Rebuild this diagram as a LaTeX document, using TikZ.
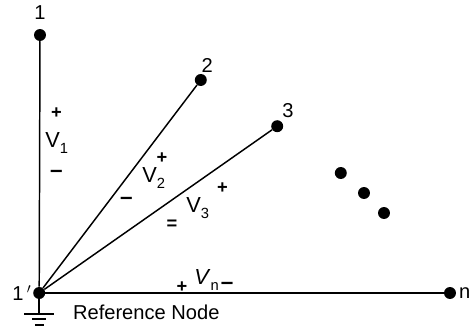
\documentclass[tikz,border=0pt]{standalone}
\usepackage{fontspec}
\setmainfont{Liberation Sans}
\newcommand{\volt}[2]{#1\raisebox{-4pt}{\fontsize{10.5}{12}\selectfont #2}}
\begin{document}
\begin{tikzpicture}[scale=1.0, every node/.style={font=\fontsize{14.3}{16}\selectfont},
    vertex/.style={circle, fill=black, inner sep=0pt, minimum size=8.5pt},
    wire/.style={line width=1.05pt},
    sign/.style={inner sep=0pt, font=\fontsize{13}{15}\selectfont\bfseries},
    minus/.style={inner sep=0pt, font=\fontsize{16}{18}\selectfont\bfseries},
    voltage/.style={anchor=base west, inner sep=0pt, font=\fontsize{15.5}{18}\selectfont}]
    \useasboundingbox (0,0) rectangle (11.75,8.175);

    % vertices
    \node[vertex] (v1) at (1.0,7.3) {};
    \node[vertex] (v2) at (5.02,6.175) {};
    \node[vertex] (v3) at (6.93,5.02) {};
    \node[vertex] (ref) at (0.98,0.85) {};
    \node[vertex] (vn) at (11.25,0.85) {};
    \node[vertex] (d1) at (8.52,3.85) {};
    \node[vertex] (d2) at (9.1,3.35) {};
    \node[vertex] (d3) at (9.6,2.85) {};

    % vertex labels
    \node[inner sep=0pt] (l1) at (1.0,7.85) {1};
    \node[inner sep=0pt] (l2) at (5.18,6.55) {2};
    \node[inner sep=0pt] (l3) at (7.2,5.4) {3};
    \node[inner sep=0pt] (lref) at (0.55,0.85) {1\,$'$};
    \node[inner sep=0pt] (ln) at (11.62,0.85) {n};

    % branches
    \draw[wire] (ref) -- (v1);
    \draw[wire] (ref) -- (v2);
    \draw[wire] (ref) -- (v3);
    \draw[wire] (ref) -- (vn);

    % ground
    \coordinate (g0) at (0.98,0.33);
    \coordinate (g1a) at (0.6,0.33);
    \coordinate (g1b) at (1.35,0.33);
    \coordinate (g2a) at (0.8,0.2);
    \coordinate (g2b) at (1.14,0.2);
    \coordinate (g3a) at (0.87,0.05);
    \coordinate (g3b) at (1.1,0.05);
    \draw[wire] (ref) -- (g0);
    \draw[wire] (g1a) -- (g1b);
    \draw[wire] (g2a) -- (g2b);
    \draw[wire] (g3a) -- (g3b);

    % voltages
    \node[sign] (p1) at (1.41,5.35) {+};
    \node[voltage] (s1) at (1.125,4.475) {\volt{V}{1}};
    \node[minus] (m1) at (1.41,3.82) {--};
    \node[sign] (p2) at (4.05,4.22) {+};
    \node[voltage] (s2) at (3.55,3.6) {\volt{V}{2}};
    \node[minus] (m2) at (3.16,3.15) {--};
    \node[sign] (p3) at (5.56,3.47) {+};
    \node[voltage] (s3) at (4.65,2.85) {\volt{V}{3}};
    \node[sign] (m3) at (4.3,2.55) {=};
    \node[sign] (p4) at (4.55,1.0) {+};
    \node[voltage] (s4) at (4.85,1.05) {\volt{\textit{V}}{n}};
    \node[minus] (m4) at (5.68,1.02) {--};

    \node[anchor=west, inner sep=0pt] (reflabel) at (1.82,0.375) {Reference Node};
\end{tikzpicture}
\end{document}
